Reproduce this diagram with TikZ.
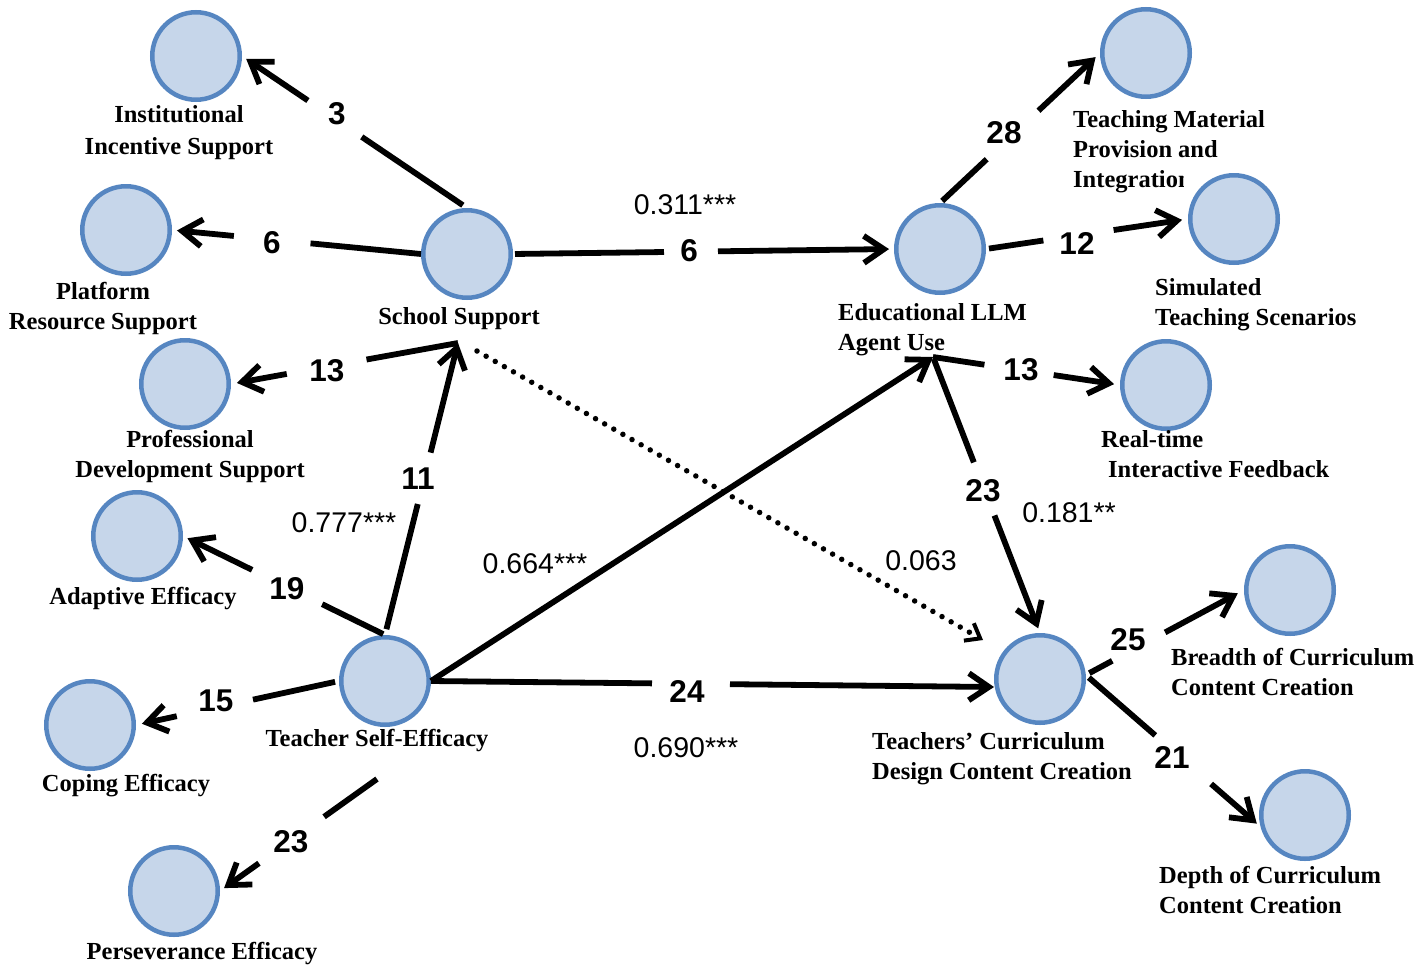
\documentclass[tikz,border=0pt]{standalone}
\usepackage{fontspec}
\setmainfont{Liberation Serif}
\newfontfamily\SansF{Liberation Sans}
\usetikzlibrary{arrows.meta}
\definecolor{cfill}{HTML}{C6D6EA}
\definecolor{cline}{HTML}{5686C1}
\newcommand\LabFont{\bfseries\fontsize{24.5}{30}\selectfont}
\newcommand\NumFont{\SansF\bfseries\fontsize{31.5}{36}\selectfont}
\newcommand\CoefFont{\SansF\fontsize{28.5}{32}\selectfont}
\begin{document}
\begin{tikzpicture}[x=1pt,y=-1pt,
 lat/.style={circle,draw=cline,fill=cfill,line width=4.5pt,minimum size=87.5pt,inner sep=0pt},
 lab/.style={font=\LabFont,inner sep=0pt,anchor=north,align=center},
 labl/.style={font=\LabFont,inner sep=0pt,anchor=north west,align=left},
 num/.style={font=\NumFont,inner sep=0pt},
 coef/.style={font=\CoefFont,inner sep=0pt},
 conn/.style={line width=5.8pt,-{Straight Barb[length=20pt,width=27pt]}},
 gapped/.style 2 args={dash pattern=on #1 off #2 on 3000pt off 10pt},
 dotconn/.style={line width=5.5pt,line cap=round,dash pattern=on 0pt off 10.5pt,-{Straight Barb[length=13pt,width=20pt,line width=4pt]}},
]
\fill[white] (0,0) rectangle (1426,972);
% latent / indicator circles
\node[lat] (inst) at (196,56) {};
\node[lat] (plat) at (126,230) {};
\node[lat] (prof) at (185,384) {};
\node[lat] (adapt) at (137,536) {};
\node[lat] (cope) at (90,725) {};
\node[lat] (pers) at (174,891) {};
\node[lat] (tse) at (385,681) {};
\node[lat] (ss) at (467,254) {};
\node[lat] (llm) at (940,249) {};
\node[lat] (tm) at (1146,53) {};
\node[lat] (sim) at (1234,219) {};
\node[lat] (rt) at (1166,385) {};
\node[lat] (tcc) at (1040,679) {};
\node[lat] (br) at (1290,590) {};
\node[lat] (dep) at (1305,815) {};
% junction points
\coordinate (ssj) at (458,343);
\coordinate (ssd) at (477,351);
\coordinate (llmj) at (933,357);
\coordinate (tccd) at (983,640);
\coordinate (tsej) at (377,779);
% connectors
\draw[conn,shorten <=5pt,shorten >=5pt,gapped={122pt}{65pt}] (ss.north) -- (inst.east);
\draw[conn,shorten >=5pt,gapped={111pt}{77pt}] (ss.west) -- (plat.east);
\draw[conn,shorten >=6pt,gapped={93pt}{81pt}] (ssj) -- (prof.east);
\draw[conn,shorten <=2pt,shorten >=5pt,gapped={149pt}{54pt}] (ss.east) -- (llm.west);
\draw[conn,shorten <=6pt,gapped={129pt}{53pt}] (tse.north) -- (ssj);
\draw[conn] (tse.east) -- (llmj);
\draw[conn,gapped={221pt}{78pt}] (tse.east) -- ([yshift=-8pt]tcc.west);
\draw[dotconn] (ssd) -- (tccd);
\draw[conn,shorten <=2pt,shorten >=5pt,gapped={111pt}{57pt}] (llmj) -- (tcc.north);
\draw[conn,shorten <=2pt,shorten >=5pt,gapped={68pt}{78pt}] (tse.north) -- (adapt.east);
\draw[conn,shorten <=4pt,shorten >=6pt,gapped={84pt}{78pt}] (tse.west) -- (cope.east);
\draw[conn,shorten >=5pt,gapped={65pt}{80pt}] (tsej) -- (pers.east);
\draw[conn,shorten <=3pt,shorten >=6pt,gapped={61pt}{71pt}] (llm.north) -- (tm.west);
\draw[conn,shorten <=3pt,shorten >=6pt,gapped={55pt}{71pt}] (llm.east) -- (sim.west);
\draw[conn,shorten >=6pt,gapped={52pt}{70pt}] (llmj) -- (rt.west);
\draw[conn,shorten <=4pt,shorten >=7pt,gapped={26pt}{60pt}] (tcc.5) -- (br.west);
\draw[conn,shorten <=4pt,shorten >=5pt,gapped={88pt}{74pt}] (tcc.5) -- (dep.195);
% number labels
\node[num] (n3) at (337,114) {3};
\node[num] (n6a) at (272,243) {6};
\node[num] (n13a) at (327,371) {13};
\node[num] (n6b) at (689,251) {6};
\node[num] (n11) at (418,479) {11};
\node[num] (n24) at (687,691) {24};
\node[num] (n23a) at (983,491) {23};
\node[num] (n19) at (287,589) {19};
\node[num] (n15) at (216,701) {15};
\node[num] (n23b) at (291,842) {23};
\node[num] (n28) at (1004,133) {28};
\node[num] (n12) at (1077,243) {12};
\node[num] (n13b) at (1021,370) {13};
\node[num] (n25) at (1128,640) {25};
\node[num] (n21) at (1172,757) {21};
% coefficients
\node[coef] (c1) at (685,205) {0.311***};
\node[coef] (c2) at (344,523) {0.777***};
\node[coef] (c3) at (535,564) {0.664***};
\node[coef] (c4) at (921,561) {0.063};
\node[coef] (c5) at (1069,513) {0.181**};
\node[coef] (c6) at (686,748) {0.690***};
% construct labels
\node[lab,font=\bfseries\fontsize{24.5}{32}\selectfont] (instl) at (179,105) {Institutional\\Incentive Support};
\node[lab] (platl) at (103,282) {Platform\\Resource Support};
\node[lab] (profl) at (190,430) {Professional\\Development Support};
\node[lab] (adaptl) at (143,587) {Adaptive Efficacy};
\node[lab] (copel) at (126,774) {Coping Efficacy};
\node[lab] (persl) at (202,942) {Perseverance Efficacy};
\node[lab] (tsel) at (377,729) {Teacher Self-Efficacy};
\node[lab] (ssl) at (459,307) {School Support};
\node[labl] (llml) at (838,303) {Educational LLM\\Agent Use};
\begin{scope}
\clip (1060,100) -- (1300,100) -- (1300,164) -- (1183,164) -- (1183,205) -- (1060,205) -- cycle;
\node[labl] (tml) at (1073,110) {Teaching Material\\Provision and\\Integration};
\end{scope}
\node[labl] (siml) at (1155,278) {Simulated\\Teaching Scenarios};
\node[labl] (rtl) at (1101,430) {Real-time\\\hspace*{7pt}Interactive Feedback};
\node[labl] (brl) at (1171,648) {Breadth of Curriculum\\Content Creation};
\node[labl] (tccl) at (872,732) {Teachers’ Curriculum\\Design Content Creation};
\node[labl] (depl) at (1159,866) {Depth of Curriculum\\Content Creation};
\end{tikzpicture}
\end{document}
